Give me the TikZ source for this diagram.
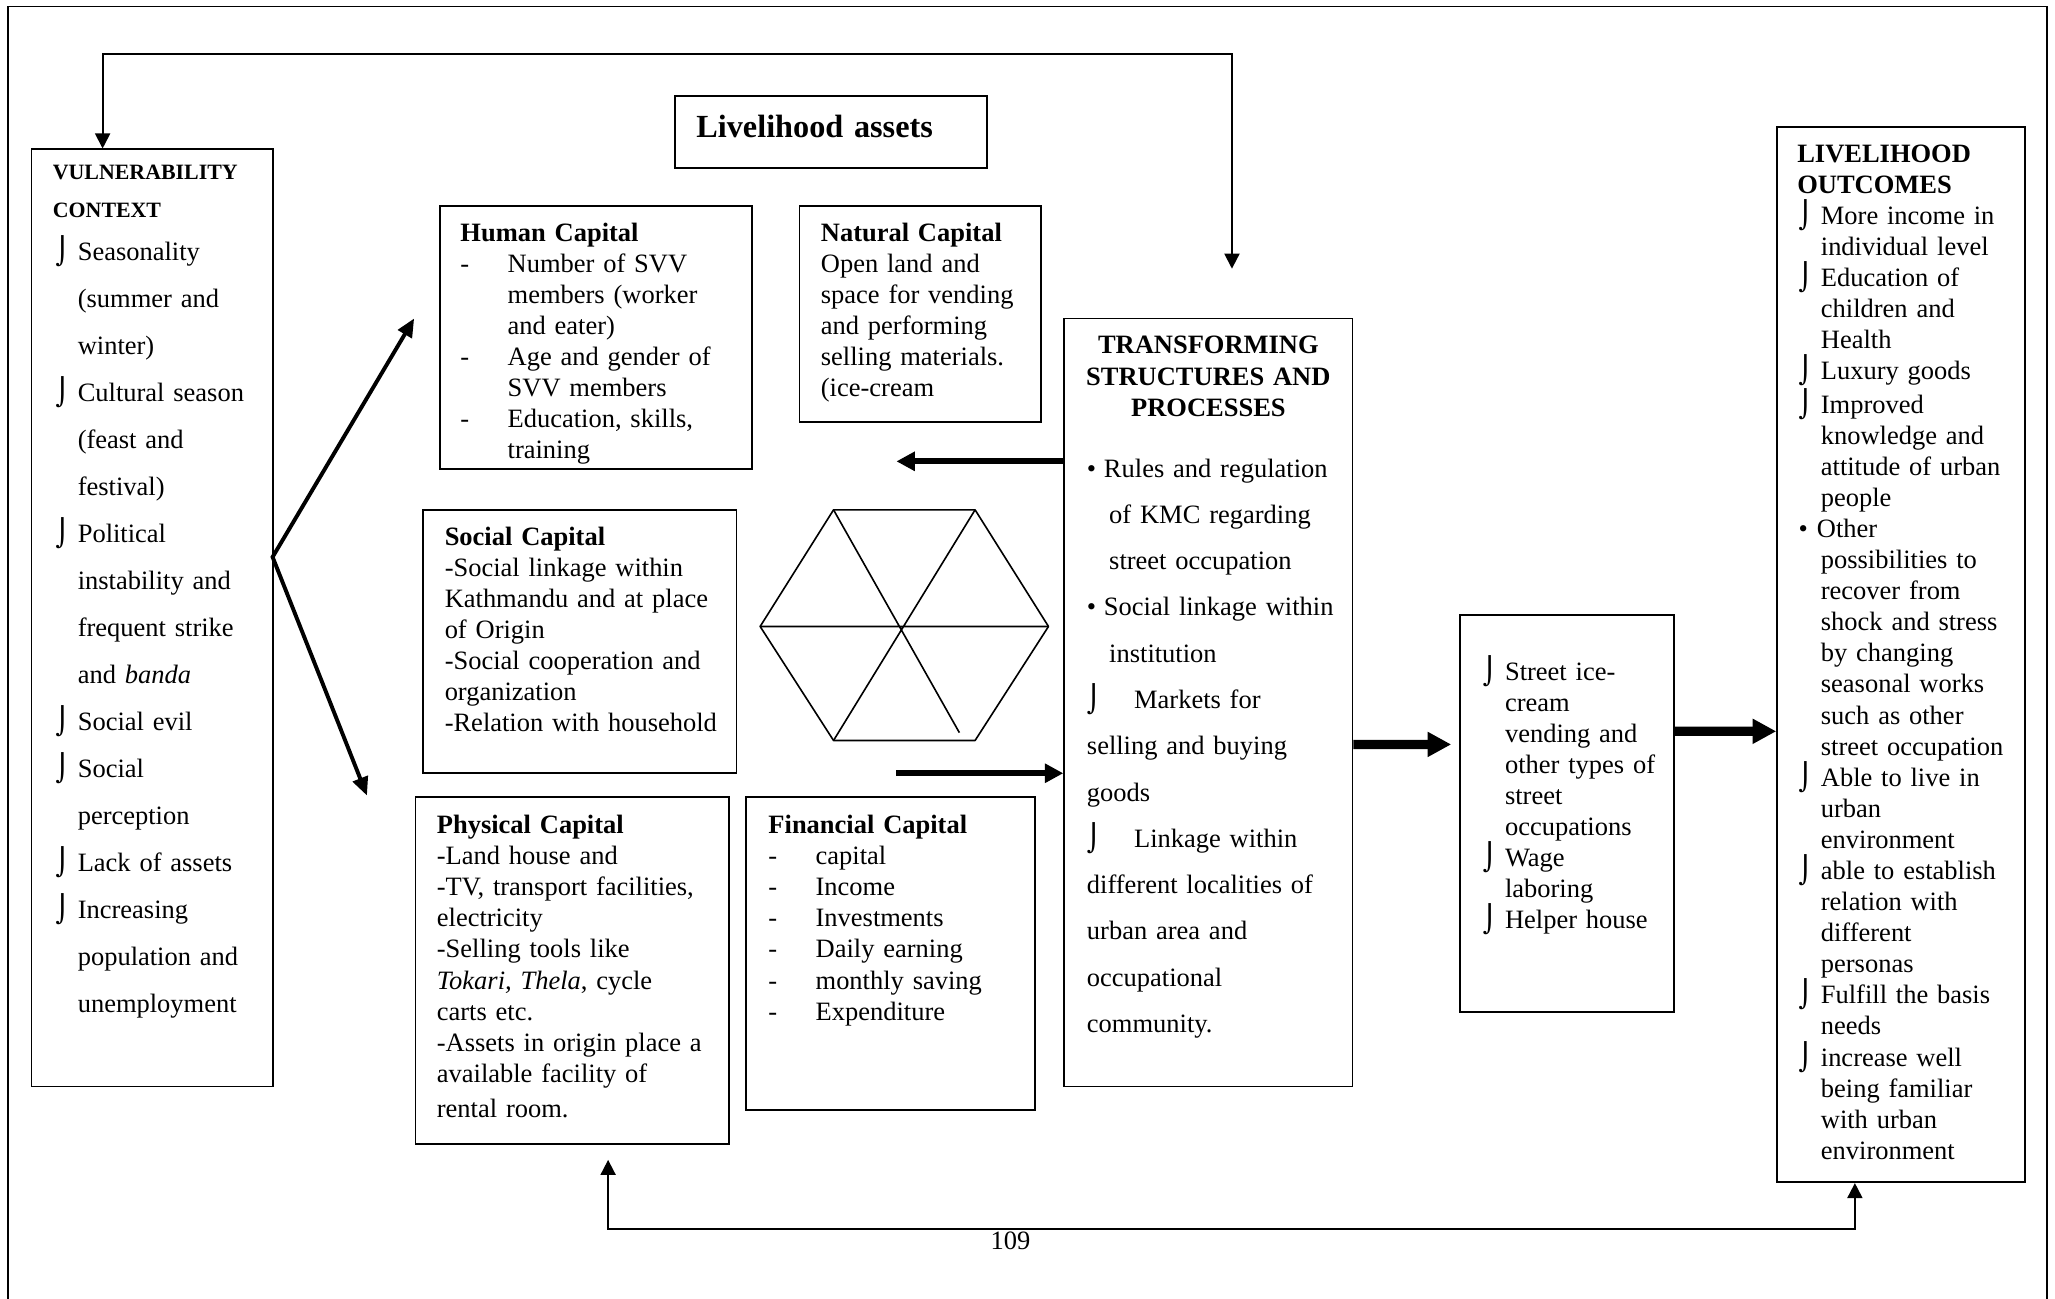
\documentclass[tikz,border=0pt]{standalone}
\usepackage{fontspec}
\setmainfont{Liberation Serif}
\newfontfamily\hkfont{DejaVu Sans}
\usetikzlibrary{arrows.meta,fit}

\newdimen\px \px=0.2mm
\newcommand{\hk}[1][17\px]{\makebox[#1][l]{\hkfont ⌡}}
\newcommand{\ind}[1][17\px]{\hspace*{#1}}
\newcommand{\blt}[1][13\px]{\makebox[#1][l]{•}}
\newcommand{\dsh}{\makebox[36\px][l]{-}}

\begin{document}
\begin{tikzpicture}[
    x=0.2mm, y=-0.2mm,
    box/.style={draw, line width=0.8pt, inner sep=0pt},
    txt/.style={inner sep=0pt, anchor=base west, align=left, text width=#1,
                font=\fontsize{11.5}{13.5}\selectfont},
    txt/.default=200\px,
    wide/.style 2 args={txt=#1, font=\fontsize{11.5}{#2}\selectfont},
    head/.style={txt=#1, font=\fontsize{11.5}{13.6}\selectfont\bfseries},
    frame/.style={line width=0.8pt},
    hexline/.style={line width=0.7pt, line join=round},
    fb/.style={line width=0.8pt, {Triangle[length=2.3mm,width=2.3mm]}-{Triangle[length=2.3mm,width=2.3mm]}},
    fork/.style={line width=1.7pt, {Triangle[length=2.8mm,width=2.4mm]}-{Triangle[length=2.8mm,width=2.4mm]}},
    mid/.style={line width=2.6pt, -{Triangle[length=2.8mm,width=2.8mm]}},
    big/.style={line width=4pt, -{Triangle[length=3.6mm,width=3.6mm]}}
]
\useasboundingbox (0,0) rectangle (1568,991);

% page frame
\draw[frame] (6,991) -- (6,5) -- (1562,5) -- (1562,991);

% boxes
\node[box, fit={(24,114) (208,829)}] (vul) {};
\node[box, fit={(515,73) (753,128)}] (assets) {};
\node[box, fit={(336,157) (574,358)}] (hum) {};
\node[box, fit={(610,157) (794,322)}] (nat) {};
\node[box, fit={(323,389) (562,590)}] (soc) {};
\node[box, fit={(317,608) (556,873)}] (phy) {};
\node[box, fit={(569,608) (790,847)}] (fin) {};
\node[box, fit={(812,243) (1032,829)}] (trans) {};
\node[box, fit={(1114,469) (1277,772)}] (occ) {};
\node[box, fit={(1356,97) (1545,902)}] (out) {};

% vulnerability context
\node[txt=170\px, font=\fontsize{9.5}{16.4}\selectfont\bfseries] (vultitle) at (40,137) {VULNERABILITY\\CONTEXT};
\node[wide={165\px}{20.4}] (vultxt) at (42,199) {\hk Seasonality\\
\ind(summer and\\
\ind winter)\\
\hk Cultural season\\
\ind(feast and\\
\ind festival)\\
\hk Political\\
\ind instability and\\
\ind frequent strike\\
\ind and \textit{banda}\\
\hk Social evil\\
\hk Social\\
\ind perception\\
\hk Lack of assets\\
\hk Increasing\\
\ind population and\\
\ind unemployment};

% livelihood assets
\node[txt=230\px, font=\fontsize{14}{16}\selectfont\bfseries] (assetstxt) at (531,105) {Livelihood assets};

\node[txt=225\px] (humtxt) at (351,184) {\textbf{Human Capital}\\
\dsh Number of SVV\\
\ind[36\px]members (worker\\
\ind[36\px]and eater)\\
\dsh Age and gender of\\
\ind[36\px]SVV members\\
\dsh Education, skills,\\
\ind[36\px]training};

\node[txt=175\px] (nattxt) at (626,184) {\textbf{Natural Capital}\\
Open land and\\
space for vending\\
and performing\\
selling materials.\\
(ice-cream};

\node[txt=225\px] (soctxt) at (339,416) {\textbf{Social Capital}\\
-Social linkage within\\
Kathmandu and at place\\
of Origin\\
-Social cooperation and\\
organization\\
-Relation with household};

\node[txt=225\px] (phytxt) at (333,636) {\textbf{Physical Capital}\\
-Land house and\\
-TV, transport facilities,\\
electricity\\
-Selling tools like\\
\textit{Tokari, Thela}, cycle\\
carts etc.\\
-Assets in origin place a\\
available facility of\\[2pt]
rental room.};

\node[txt=200\px] (fintxt) at (586,636) {\textbf{Financial Capital}\\
\dsh capital\\
\dsh Income\\
\dsh Investments\\
\dsh Daily earning\\
\dsh monthly saving\\
\dsh Expenditure};

% hexagon
\draw[hexline] (580,478) -- (636,389) -- (744,389) -- (800,478) -- (744,565) -- (636,565) -- cycle;
\draw[hexline] (580,478) -- (800,478) (744,389) -- (636,565) (636,389) -- (732,559);

% transforming structures
\node[head=210\px, align=center, anchor=base] (transtitle) at (922,270) {TRANSFORMING\\STRUCTURES AND\\PROCESSES};
\node[wide={205\px}{20.1}] (transtxt) at (829,364) {\blt Rules and regulation\\
\ind of KMC regarding\\
\ind street occupation\\
\blt Social linkage within\\
\ind institution\\
\hk[36\px]Markets for\\
selling and buying\\
goods\\
\hk[36\px]Linkage within\\
different localities of\\
urban area and\\
occupational\\
community.};

% occupations
\node[txt=150\px] (occtxt) at (1131,519) {\hk Street ice-\\
\ind cream\\
\ind vending and\\
\ind other types of\\
\ind street\\
\ind occupations\\
\hk Wage\\
\ind laboring\\
\hk Helper house};

% livelihood outcomes
\node[head=180\px] (outtitle) at (1371,124) {LIVELIHOOD\\OUTCOMES};
\node[txt=175\px] (outtxt) at (1372,171) {\hk More income in\\
\ind individual level\\
\hk Education of\\
\ind children and\\
\ind Health\\
\hk Luxury goods\\
\hk Improved\\
\ind knowledge and\\
\ind attitude of urban\\
\ind people\\
\blt[14\px]Other\\
\ind possibilities to\\
\ind recover from\\
\ind shock and stress\\
\ind by changing\\
\ind seasonal works\\
\ind such as other\\
\ind street occupation\\
\hk Able to live in\\
\ind urban\\
\ind environment\\
\hk able to establish\\
\ind relation with\\
\ind different\\
\ind personas\\
\hk Fulfill the basis\\
\ind needs\\
\hk increase well\\
\ind being familiar\\
\ind with urban\\
\ind environment};

% feedback loops
\coordinate (fbend) at (940,205);
\coordinate (fbtop) at (940,41);
\draw[fb] (fbend) -- (fbtop) -| ([xshift=55\px]vul.north west);
\coordinate (fbphy) at (464,885);
\draw[fb] (fbphy) -- ++(0,53) -| ([xshift=60\px]out.south west);
\node[inner sep=0pt, anchor=base, font=\fontsize{11.5}{13.5}\selectfont] (pagenum) at (771,953) {109};

% vulnerability to assets
\coordinate (fork) at (208,425);
\coordinate (forkup) at (316,243);
\coordinate (forkdown) at (280,607);
\draw[fork] (forkup) -- (fork) -- (forkdown);

% structures and assets
\coordinate (hexin) at (684,352);
\coordinate (hexout) at (684,590);
\draw[mid] (trans.west |- hexin) -- (hexin);
\draw[mid] (hexout) -- (trans.west |- hexout);

% strategies and outcomes
\draw[big, shorten >=6\px] ([yshift=-32\px]trans.east) -- ([yshift=52.5\px]occ.west);
\draw[big] ([yshift=62.5\px]occ.east) -- ([yshift=-58.5\px]out.west);

\end{tikzpicture}
\end{document}
